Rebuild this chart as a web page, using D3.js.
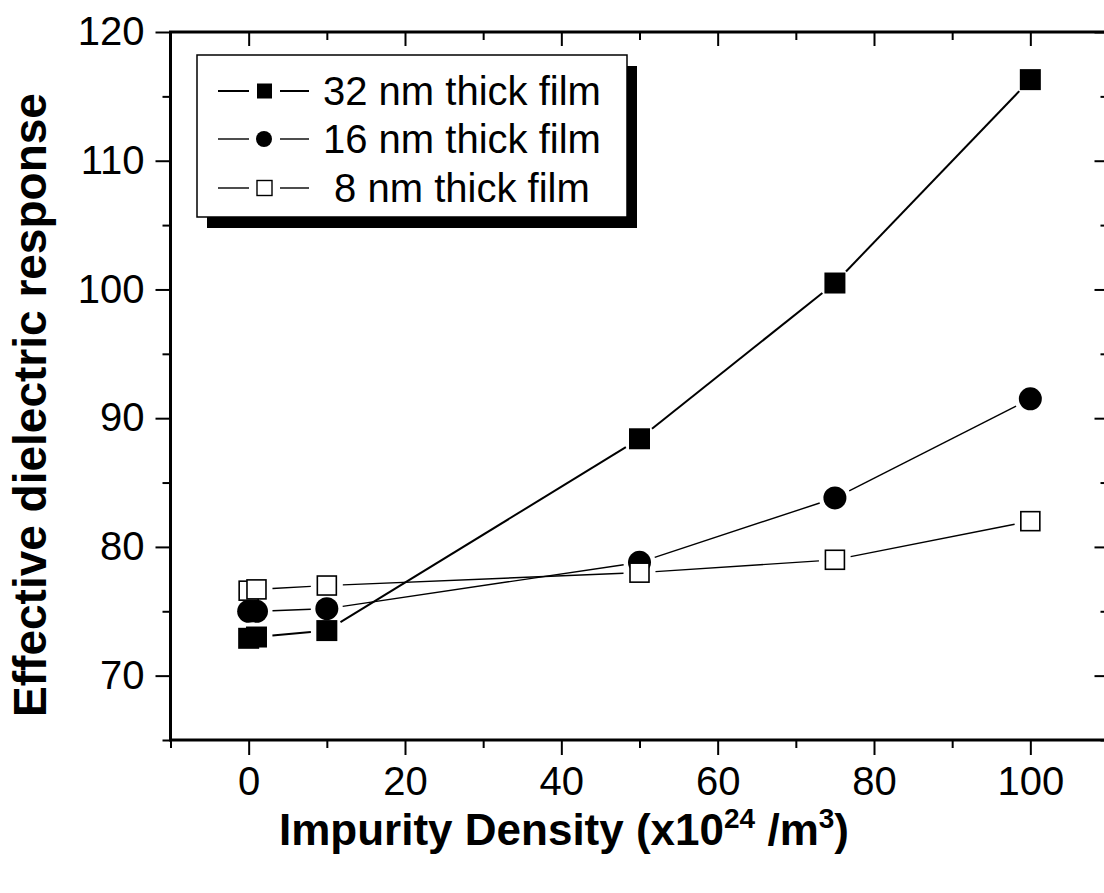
<!DOCTYPE html>
<html>
<head>
<meta http-equiv="content-type" content="text/html; charset=UTF8">
<style>
  body { margin: 0; background: #fff; }
  text { font-family: "Liberation Sans", Arial, sans-serif; }
</style>
</head>
<body>
<div id="chart"></div>
<script src="https://d3js.org/d3.v7.min.js"></script>
<script>
  var w = 1104;
  var h = 893;

  // data
  var density = [0, 1, 10, 50, 75, 100];
  var film32 = [72.9, 73.0, 73.5, 88.4, 100.5, 116.3];
  var film16 = [75.0, 75.0, 75.2, 78.8, 83.8, 91.5];
  var film8 = [76.6, 76.7, 77.0, 78.0, 79.0, 82.0];
  var seriesNames = ["32 nm thick film", "16 nm thick film", " 8 nm thick film"];
  var xTicks = [0, 20, 40, 60, 80, 100];
  var xMinor = [-10, 10, 30, 50, 70, 90, 110];
  var yTicks = [70, 80, 90, 100, 110, 120];
  var yMinor = [65, 75, 85, 95, 105, 115];

  (function () {
    var pLeft = 170.5, pRight = 1108.5, pTop = 32, pBottom = 740;

    var x = d3.scaleLinear().domain([-10, 110]).range([pLeft, pRight]);
    var y = d3.scaleLinear().domain([65, 120]).range([pBottom, pTop]);

    var svg = d3.select("#chart").append("svg").attr("width", w).attr("height", h);

    function tidy(g) {
      g.select(".domain").remove();
      g.selectAll(".tick line").attr("stroke", "#000").attr("stroke-width", 2);
    }

    // bottom axis, labels and outward ticks
    svg.append("g").attr("transform", "translate(0," + pBottom + ")")
      .call(d3.axisBottom(x).tickValues(xTicks).tickSize(15).tickPadding(12).tickFormat(d3.format("d")))
      .call(tidy)
      .selectAll("text").attr("font-size", 40).attr("fill", "#000")
      .style("font-family", "'Liberation Sans', Arial, sans-serif");
    svg.append("g").attr("transform", "translate(0," + pBottom + ")")
      .call(d3.axisBottom(x).tickValues(xMinor).tickSize(8).tickFormat(""))
      .call(tidy);

    // top axis, inward ticks
    svg.append("g").attr("transform", "translate(0," + pTop + ")")
      .call(d3.axisBottom(x).tickValues(xTicks).tickSize(14).tickFormat(""))
      .call(tidy);
    svg.append("g").attr("transform", "translate(0," + pTop + ")")
      .call(d3.axisBottom(x).tickValues(xMinor).tickSize(8).tickFormat(""))
      .call(tidy);

    // left axis
    svg.append("g").attr("transform", "translate(" + pLeft + ",0)")
      .call(d3.axisLeft(y).tickValues(yTicks).tickSize(15).tickPadding(11).tickFormat(d3.format("d")))
      .call(tidy)
      .selectAll("text").attr("font-size", 40).attr("fill", "#000")
      .style("font-family", "'Liberation Sans', Arial, sans-serif");
    svg.append("g").attr("transform", "translate(" + pLeft + ",0)")
      .call(d3.axisLeft(y).tickValues(yMinor).tickSize(8).tickFormat(""))
      .call(tidy);

    // right axis, inward ticks
    svg.append("g").attr("transform", "translate(" + pRight + ",0)")
      .call(d3.axisLeft(y).tickValues(yTicks).tickSize(14).tickFormat(""))
      .call(tidy);
    svg.append("g").attr("transform", "translate(" + pRight + ",0)")
      .call(d3.axisLeft(y).tickValues(yMinor).tickSize(8).tickFormat(""))
      .call(tidy);

    // frame
    svg.append("rect")
      .attr("x", pLeft).attr("y", pTop)
      .attr("width", pRight - pLeft).attr("height", pBottom - pTop)
      .attr("fill", "none").attr("stroke", "#000").attr("stroke-width", 3);

    // series with gapped connecting lines (Origin style)
    var series = [
      { vals: film32, shape: "square", fill: "#000", lw: 2 },
      { vals: film16, shape: "circle", fill: "#000", lw: 1.4 },
      { vals: film8, shape: "square", fill: "#fff", lw: 1.4 }
    ];
    var gap = 16;

    series.forEach(function (s) {
      var pts = density.map(function (d, i) { return [x(d), y(s.vals[i])]; });
      var segs = [];
      for (var i = 0; i < pts.length - 1; i++) {
        var dx = pts[i + 1][0] - pts[i][0], dy = pts[i + 1][1] - pts[i][1];
        var len = Math.sqrt(dx * dx + dy * dy);
        if (len > 2 * gap) {
          var ux = dx / len, uy = dy / len;
          segs.push([pts[i][0] + ux * gap, pts[i][1] + uy * gap,
                     pts[i + 1][0] - ux * gap, pts[i + 1][1] - uy * gap]);
        }
      }
      svg.append("g").selectAll("line").data(segs).enter().append("line")
        .attr("x1", function (d) { return d[0]; })
        .attr("y1", function (d) { return d[1]; })
        .attr("x2", function (d) { return d[2]; })
        .attr("y2", function (d) { return d[3]; })
        .attr("stroke", "#000").attr("stroke-width", s.lw);

      var g = svg.append("g");
      if (s.shape === "circle") {
        g.selectAll("circle").data(pts).enter().append("circle")
          .attr("cx", function (d) { return d[0]; })
          .attr("cy", function (d) { return d[1]; })
          .attr("r", 11.5).attr("fill", s.fill);
      } else {
        var sz = s.fill === "#fff" ? 19 : 21;
        g.selectAll("rect").data(pts).enter().append("rect")
          .attr("x", function (d) { return d[0] - sz / 2; })
          .attr("y", function (d) { return d[1] - sz / 2; })
          .attr("width", sz).attr("height", sz)
          .attr("fill", s.fill)
          .attr("stroke", "#000").attr("stroke-width", s.fill === "#fff" ? 1.6 : 0);
      }
    });

    // legend with drop shadow
    var lg = svg.append("g");
    lg.append("rect").attr("x", 207).attr("y", 66).attr("width", 430).attr("height", 162).attr("fill", "#000");
    lg.append("rect").attr("x", 197).attr("y", 55).attr("width", 430).attr("height", 162)
      .attr("fill", "#fff").attr("stroke", "#000").attr("stroke-width", 1.5);

    var rowY = [91, 139, 188];
    series.forEach(function (s, i) {
      var cy = rowY[i];
      lg.append("line").attr("x1", 218).attr("x2", 249).attr("y1", cy).attr("y2", cy)
        .attr("stroke", "#000").attr("stroke-width", s.lw);
      lg.append("line").attr("x1", 280).attr("x2", 309).attr("y1", cy).attr("y2", cy)
        .attr("stroke", "#000").attr("stroke-width", s.lw);
      if (s.shape === "circle") {
        lg.append("circle").attr("cx", 264).attr("cy", cy).attr("r", 8).attr("fill", "#000");
      } else {
        lg.append("rect").attr("x", 257).attr("y", cy - 7.5).attr("width", 15).attr("height", 15)
          .attr("fill", s.fill).attr("stroke", "#000").attr("stroke-width", s.fill === "#fff" ? 1.4 : 0);
      }
      lg.append("text").attr("x", 323).attr("y", cy + 14)
        .attr("font-size", 40).style("white-space", "pre")
        .text(seriesNames[i]);
    });

    // axis titles
    var xt = svg.append("text").attr("x", 564).attr("y", 845)
      .attr("text-anchor", "middle").attr("font-size", 44).attr("font-weight", "bold");
    xt.append("tspan").text("Impurity Density (x10");
    xt.append("tspan").attr("font-size", 28).attr("dy", -17).text("24");
    xt.append("tspan").attr("dy", 17).text(" /m");
    xt.append("tspan").attr("font-size", 28).attr("dy", -17).text("3");
    xt.append("tspan").attr("dy", 17).text(")");

    svg.append("text")
      .attr("transform", "translate(46,405) rotate(-90)")
      .attr("text-anchor", "middle").attr("font-size", 46).attr("font-weight", "bold")
      .text("Effective dielectric response");
  })();
</script>
</body>
</html>
